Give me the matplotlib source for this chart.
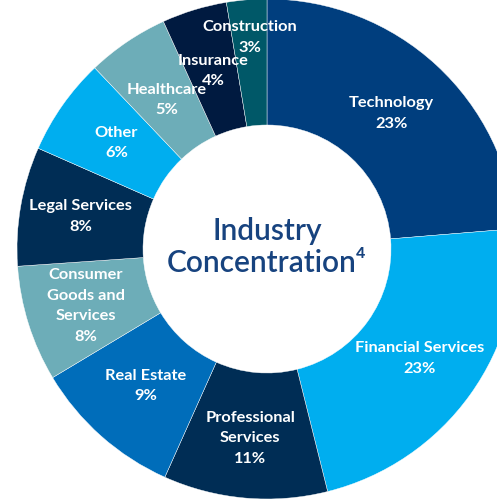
import numpy as np
import matplotlib
matplotlib.use("Agg")
import matplotlib.pyplot as plt

categories = ["Technology", "Financial Services", "Professional\nServices", "Real Estate",
              "Consumer\nGoods and\nServices", "Legal Services", "Other", "Healthcare",
              "Insurance", "Construction"]
# drawn shares (as measured from the wedge angles) and printed (rounded) percentages
shares = [23.7, 22.4, 10.6, 9.7, 7.5, 7.7, 6.3, 5.3, 4.2, 2.6]
pct_labels = [23, 23, 11, 9, 8, 8, 6, 5, 4, 3]
colors = ["#003E7E", "#00AEEF", "#002D55", "#006DBA", "#6DADB8",
          "#002D55", "#00AEEF", "#6DADB8", "#001A40", "#005868"]
label_radius = [184, 188, 190, 183, 190, 189, 184, 180, 186, 212]
title_text = "Industry\nConcentration\u2074"

W, H = 497, 499
fig = plt.figure(figsize=(W / 100, H / 100), dpi=100)
ax = fig.add_axes([0, 0, 1, 1])

cx, cy = 267, H - 249
R, r_in = 250, 124
wedges, _ = ax.pie(shares, colors=colors, startangle=90, counterclock=False,
                   center=(cx, cy), radius=R, frame=True,
                   wedgeprops=dict(width=R - r_in, edgecolor="white", linewidth=0.3))
ax.set_xlim(0, W)
ax.set_ylim(0, H)
ax.set_aspect("equal")
ax.axis("off")

fam = ["Lato", "DejaVu Sans"]
for w, lab, p, lr in zip(wedges, categories, pct_labels, label_radius):
    ang = np.deg2rad((w.theta1 + w.theta2) / 2)
    x = cx + lr * np.cos(ang)
    y = cy + lr * np.sin(ang)
    ax.text(x, y, f"{lab}\n{p}%", ha="center", va="center", color="white",
            fontsize=11.8, fontweight="bold", family=fam, linespacing=1.6)

ax.text(cx, cy + 2, title_text, ha="center", va="center", color="#17437F",
        fontsize=21.5, family=fam, fontweight="semibold", linespacing=1.2)

fig.savefig("out.png", dpi=100)
